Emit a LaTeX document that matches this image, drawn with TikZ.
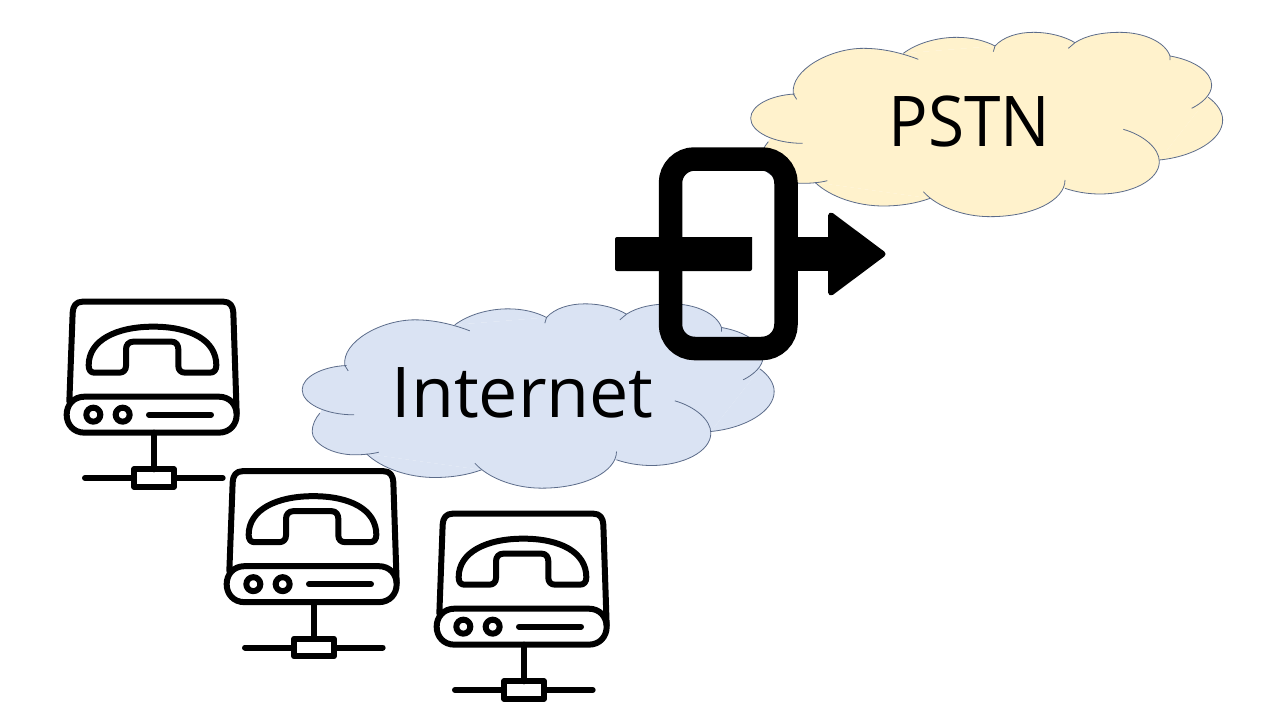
\documentclass[tikz,border=0pt]{standalone}
\usepackage{fontspec}
\setmainfont{Open Sans}
\definecolor{cloudedge}{RGB}{92,108,138}
\definecolor{internetfill}{RGB}{218,227,243}
\definecolor{pstnfill}{RGB}{255,242,204}
\newcommand{\cloudlobes}[1]{%
  #1 (170,238) -- (160,222) .. controls (150,150) and (270,85) .. (370,85) .. controls (420,85) and (475,95) .. (535,118);
  #1 (490,100) .. controls (530,70) and (590,52) .. (650,52) .. controls (695,52) and (735,62) .. (765,78);
  #1 (760,95) -- (765,78) .. controls (790,50) and (835,37) .. (880,37) .. controls (930,37) and (975,50) .. (1005,68);
  #1 (985,85) -- (1005,68) .. controls (1040,45) and (1090,37) .. (1140,37) .. controls (1210,37) and (1275,65) .. (1290,108) -- (1290,120);
  #1 (1290,108) .. controls (1360,120) and (1415,155) .. (1415,195) .. controls (1415,225) and (1385,250) .. (1355,265);
  #1 (1405,232) .. controls (1430,250) and (1448,275) .. (1448,300) .. controls (1448,360) and (1360,410) .. (1258,420);
  #1 (1150,328) .. controls (1210,345) and (1258,385) .. (1258,425) .. controls (1258,480) and (1175,522) .. (1080,522) .. controls (1040,522) and (1005,515) .. (975,505);
  #1 (975,480) .. controls (975,540) and (880,590) .. (750,590) .. controls (670,590) and (590,560) .. (550,515);
  #1 (570,535) .. controls (530,550) and (480,558) .. (430,558) .. controls (350,558) and (270,530) .. (225,487);
  #1 (262,482) .. controls (240,488) and (210,490) .. (190,490) .. controls (120,490) and (62,455) .. (62,420) .. controls (62,400) and (72,380) .. (85,365);
  #1 (188,370) .. controls (100,370) and (32,335) .. (32,295) .. controls (32,255) and (95,225) .. (165,222);
}
\newcommand{\cloudshape}[2]{%
  \begin{scope}[shift={(#1)},scale=1/3]
    \fill[#2] (165,222) -- (490,100) -- (765,78) -- (1005,68) -- (1290,108) -- (1405,232) -- (1258,420) -- (975,505) -- (570,535) -- (225,487) -- (85,365) -- cycle;
    \cloudlobes{\fill[#2]}
    \cloudlobes{\draw[cloudline]}
  \end{scope}
}
\newcommand{\phoneicon}[1]{%
  \begin{scope}[shift={(#1)},scale=1/3,iconline]
    % body and base band
    \draw (58,335) -- (68,68) .. controls (69,48) and (78,35) .. (98,35) -- (520,35) .. controls (540,35) and (549,48) .. (550,68) -- (560,370);
    \draw (104,320) -- (506,320) .. controls (540,320) and (560,345) .. (560,374) .. controls (560,403) and (540,428) .. (506,428) -- (104,428) .. controls (70,428) and (50,403) .. (50,374) .. controls (50,345) and (70,320) .. (104,320) -- cycle;
    % handset
    \draw (133,248) -- (208,248) .. controls (220,248) and (228,240) .. (228,228) -- (228,178) .. controls (228,165) and (236,155) .. (250,155) -- (365,155) .. controls (378,155) and (385,165) .. (385,178) -- (385,228) .. controls (385,240) and (393,248) .. (405,248) -- (480,248) .. controls (492,248) and (499,240) .. (499,226) .. controls (499,150) and (420,110) .. (310,110) .. controls (200,110) and (116,150) .. (116,226) .. controls (116,240) and (122,248) .. (133,248) -- cycle;
    % indicators
    \draw (130,374) circle[radius=21];
    \draw (218,374) circle[radius=21];
    \draw (297,374) -- (483,374);
    % network tap
    \draw (312,428) -- (312,538);
    \draw (252,538) rectangle (372,590);
    \draw (105,564) -- (252,564);
    \draw (372,564) -- (518,564);
  \end{scope}
}
\tikzset{
  cloudline/.style={draw=cloudedge,line width=0.8pt},
  iconline/.style={draw=black,line width=6pt,line cap=round,line join=round},
  cloudtext/.style={font=\fontsize{70}{84}\selectfont,text=black,inner sep=0pt}
}
\begin{document}
\begin{tikzpicture}[x=1pt,y=-1pt]
  \useasboundingbox[fill=white] (0,0) rectangle (1280,720);
  \cloudshape{291.5,291.5}{internetfill}
  \cloudshape{740,20}{pstnfill}
  \node[cloudtext,anchor=base] (internet) at (522.5,417) {Internet};
  \node[cloudtext,anchor=base,xscale=0.94,transform shape] (pstn) at (969.5,146) {PSTN};
  \phoneicon{50,290}
  \phoneicon{210,459.5}
  \phoneicon{420,502}
  % gateway
  \draw[black,line width=23.5pt,rounded corners=24pt] (670.5,159) rectangle (786,348.5);
  \fill[black,rounded corners=2pt] (752,237) -- (615,237) -- (615,271) -- (752,271) [sharp corners] -- cycle;
  \fill[black] (790,237) rectangle (832,271);
  \fill[black,draw=black,line width=6pt,line join=round] (831,215.5) -- (882.5,254) -- (831,292.5) -- cycle;
\end{tikzpicture}
\end{document}
